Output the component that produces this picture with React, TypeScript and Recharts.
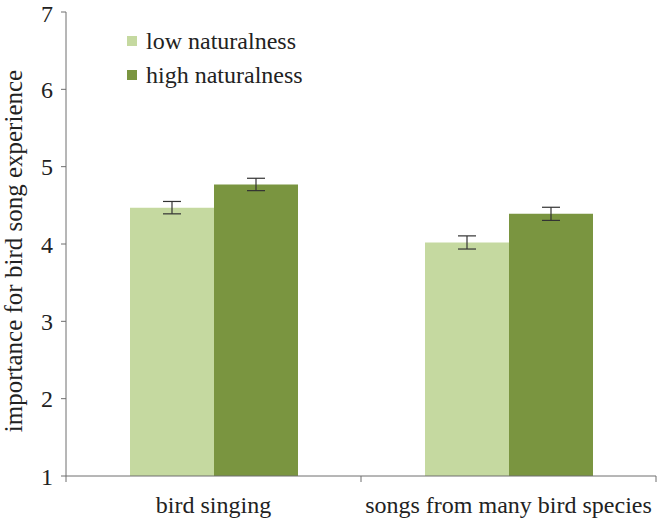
import React from 'react';
import { BarChart, Bar, XAxis, YAxis, ErrorBar, Legend } from 'recharts';

const categories = ['bird singing', 'songs from many bird species'];
const lowValues = [4.47, 4.02];
const lowErrors = [0.08, 0.085];
const highValues = [4.77, 4.39];
const highErrors = [0.08, 0.085];
const yTicks = [1, 2, 3, 4, 5, 6, 7];
const seriesNames = ['low naturalness', 'high naturalness'];

const data = categories.map((name, i) => ({
  name,
  low: lowValues[i],
  lowErr: lowErrors[i],
  high: highValues[i],
  highErr: highErrors[i],
}));

const LIGHT = '#c5d9a0';
const DARK = '#7a9540';
const AXIS = '#6e6e6e';
const FONT = '"Liberation Serif", "Times New Roman", serif';

const XTick = (props: any) => {
  const { x, y, payload, index, width, visibleTicksCount } = props;
  const count = visibleTicksCount || categories.length;
  const half = typeof width === 'number' && width > 0 ? width / count / 2 : payload.offset || 0;
  return (
    <g>
      <line x1={x - half} x2={x - half} y1={y} y2={y + 6} stroke={AXIS} strokeWidth={1} />
      {index === count - 1 && (
        <line x1={x + half} x2={x + half} y1={y} y2={y + 6} stroke={AXIS} strokeWidth={1} />
      )}
      <text x={x} y={y + 37} textAnchor="middle" fill="#222" stroke="none" fontSize={24} fontFamily={FONT}>
        {payload.value}
      </text>
    </g>
  );
};

const LegendContent = (props: any) => {
  const items = seriesNames
    .map((n) => (props.payload || []).find((p: any) => p.value === n))
    .filter(Boolean);
  return (
    <div style={{ fontFamily: FONT, fontSize: 24, color: '#222' }}>
      {items.map((p: any) => (
        <div key={p.value} style={{ display: 'flex', alignItems: 'center', height: 34 }}>
          <span style={{ width: 10, height: 10, background: p.color, marginRight: 9, display: 'inline-block' }} />
          {p.value}
        </div>
      ))}
    </div>
  );
};

export default function App() {
  return (
    <div style={{ position: 'absolute', left: 0, top: 0, background: '#fff' }}>
      <BarChart
        width={661}
        height={518}
        data={data}
        margin={{ top: 12, right: 5, left: 0, bottom: 0 }}
        barCategoryGap={64}
        barGap={0}
      >
        <XAxis
          dataKey="name"
          stroke={AXIS}
          tickLine={false}
          tickSize={0}
          tickMargin={0}
          height={42}
          tick={<XTick />}
          interval={0}
        />
        <YAxis
          domain={[1, 7]}
          ticks={yTicks}
          type="number"
          width={66}
          stroke={AXIS}
          tickSize={5}
          tickMargin={8}
          tick={{ fill: '#222', fontSize: 24, fontFamily: FONT }}
          allowDataOverflow
          label={{
            value: 'importance for bird song experience',
            angle: -90,
            position: 'center',
            dx: -20,
            dy: 7,
            fill: '#222',
            fontSize: 25,
            fontFamily: FONT,
          }}
        />
        <Legend
          layout="horizontal"
          align="center"
          verticalAlign="middle"
          wrapperStyle={{ left: 127, top: 24, width: 'auto' }}
          content={<LegendContent />}
        />
        <Bar dataKey="low" name="low naturalness" fill={LIGHT} isAnimationActive={false}>
          <ErrorBar dataKey="lowErr" width={9} stroke="#333" strokeWidth={1.2} />
        </Bar>
        <Bar dataKey="high" name="high naturalness" fill={DARK} isAnimationActive={false}>
          <ErrorBar dataKey="highErr" width={9} stroke="#333" strokeWidth={1.2} />
        </Bar>
      </BarChart>
    </div>
  );
}
